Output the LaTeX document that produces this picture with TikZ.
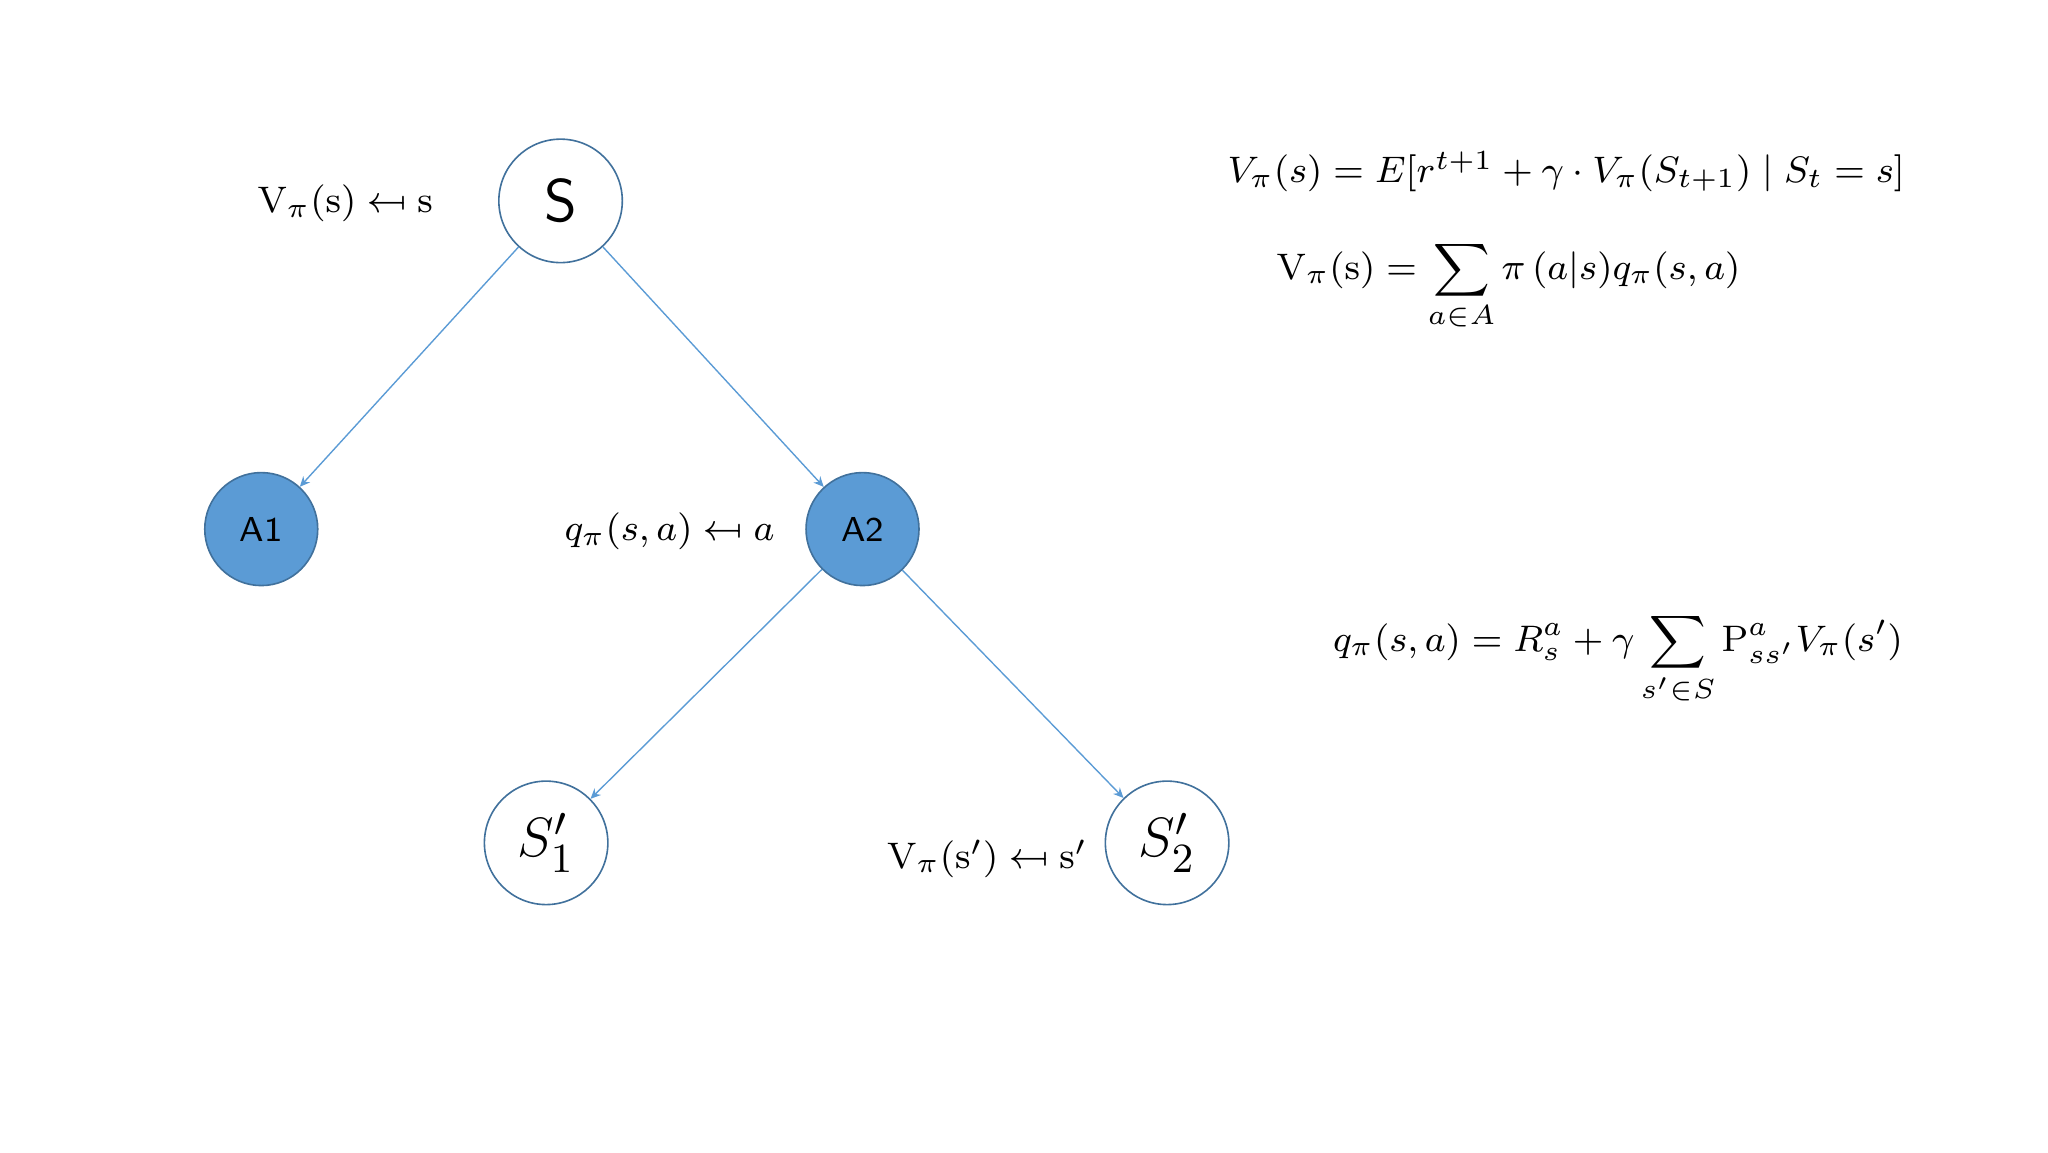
\documentclass[tikz,border=0pt]{standalone}
\usepackage{amsmath}
\usepackage{graphicx}
\usetikzlibrary{arrows.meta}
\definecolor{cfill}{HTML}{5B9BD5}
\definecolor{cdraw}{HTML}{41719C}
\newcommand{\mfrom}{\mathrel{\reflectbox{$\mapsto$}}}
\begin{document}
\begin{tikzpicture}[x=0.01cm,y=-0.01cm,
  st/.style={circle,draw=cdraw,line width=0.35pt,minimum size=0.94cm,inner sep=0pt,font=\fontsize{13}{15}\selectfont},
  ac/.style={circle,draw=cdraw,fill=cfill,line width=0.35pt,minimum size=0.86cm,inner sep=0pt,font=\sffamily\fontsize{7.5}{9}\selectfont},
  ed/.style={draw=cfill,line width=0.3pt,-{Stealth[length=2.2pt,width=2pt]}},
  lab/.style={font=\fontsize{8.5}{10}\selectfont},
  eq/.style={font=\fontsize{8}{10}\selectfont}]
\useasboundingbox (0,0) rectangle (1560,877.5);
\node[st] (S) at (427,153) {\textsf{S}};
\node[ac] (A1) at (199,403) {A1};
\node[ac] (A2) at (657,403) {A2};
\node[st] (S1) at (416,642) {$S_1'$};
\node[st] (S2) at (889,642) {$S_2'$};
\draw[ed] (S) -- (A1);
\draw[ed] (S) -- (A2);
\draw[ed] (A2) -- (S1);
\draw[ed] (A2) -- (S2);
\node[lab] (l1) at (263,155) {$\mathrm{V}_{\pi}(\mathrm{s})\mfrom\mathrm{s}$};
\node[lab] (l2) at (510,405) {$q_\pi(s,a)\mfrom a$};
\node[lab] (l3) at (752,654) {$\mathrm{V}_{\pi}(\mathrm{s}')\mfrom\mathrm{s}'$};
\node[eq] (e1) at (1193,131) {$V_\pi(s)=E[r^{t+1}+\gamma\cdot V_\pi(S_{t+1})\mid S_t=s]$};
\node[eq,anchor=west] (e2) at (960,218) {$\displaystyle\mathrm{V}_{\pi}(\mathrm{s})=\sum_{a\in A}\pi\,(a|s)q_\pi(s,a)$};
\node[eq,anchor=west] (e3) at (1003,502) {$\displaystyle q_\pi(s,a)=R_s^a+\gamma\sum_{s'\in S}\mathrm{P}_{ss'}^{a}V_\pi(s')$};
\end{tikzpicture}
\end{document}
